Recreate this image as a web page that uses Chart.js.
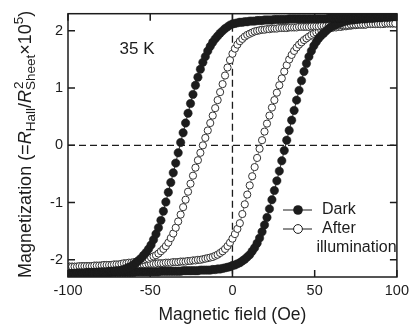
<!DOCTYPE html>
<html>
<head>
<meta charset="utf-8">
<script src="https://cdn.jsdelivr.net/npm/chart.js@4.4.0/dist/chart.umd.min.js"></script>
<style>
   body { margin: 0; background: #fff; }
   #box { width: 414px; height: 330px; }
</style>
</head>
<body>
<div id="box"><canvas id="hallChart"></canvas></div>
<script>
// magnetic field (Oe), same grid for every branch
const fieldOe = [
   -99, -97.5, -96, -94.5, -93, -91.5, -90, -88.5, -87, -85.5,
   -84, -82.5, -81, -79.5, -78, -76.5, -75, -73.5, -72, -70.5,
   -69, -67.5, -66, -64.5, -63, -61.5, -60, -58.5, -57, -55.5,
   -54, -52.5, -51, -49.5, -48, -46.5, -45, -43.5, -42, -40.5,
   -39, -37.5, -36, -34.5, -33, -31.5, -30, -28.5, -27, -25.5,
   -24, -22.5, -21, -19.5, -18, -16.5, -15, -13.5, -12, -10.5,
   -9, -7.5, -6, -4.5, -3, -1.5, 0,
   1.5, 3, 4.5, 6, 7.5, 9, 10.5, 12, 13.5, 15,
   16.5, 18, 19.5, 21, 22.5, 24, 25.5, 27, 28.5, 30,
   31.5, 33, 34.5, 36, 37.5, 39, 40.5, 42, 43.5, 45,
   46.5, 48, 49.5, 51, 52.5, 54, 55.5, 57, 58.5, 60,
   61.5, 63, 64.5, 66, 67.5, 69, 70.5, 72, 73.5, 75,
   76.5, 78, 79.5, 81, 82.5, 84, 85.5, 87, 88.5, 90,
   91.5, 93, 94.5, 96, 97.5, 99
];

// Dark, sweep down (+ -> -)
const darkDown = [
   -2.24, -2.24, -2.24, -2.23, -2.23, -2.23, -2.23, -2.22, -2.22, -2.22,
   -2.22, -2.22, -2.21, -2.21, -2.21, -2.21, -2.20, -2.20, -2.20, -2.19,
   -2.19, -2.18, -2.17, -2.15, -2.13, -2.11, -2.08, -2.05, -2.01, -1.97,
   -1.92, -1.87, -1.81, -1.74, -1.65, -1.55, -1.44, -1.31, -1.15, -0.99,
   -0.82, -0.65, -0.48, -0.31, -0.13, 0.05, 0.22, 0.39, 0.56, 0.73,
   0.89, 1.05, 1.19, 1.33, 1.45, 1.55, 1.65, 1.73, 1.80, 1.86,
   1.91, 1.96, 2.00, 2.04, 2.07, 2.10, 2.12,
   2.13, 2.14, 2.15, 2.15, 2.16, 2.16, 2.17, 2.17, 2.17, 2.18,
   2.18, 2.18, 2.19, 2.19, 2.19, 2.19, 2.20, 2.20, 2.20, 2.20,
   2.20, 2.20, 2.21, 2.21, 2.21, 2.21, 2.21, 2.21, 2.21, 2.21,
   2.21, 2.21, 2.21, 2.21, 2.21, 2.21, 2.21, 2.21, 2.22, 2.22,
   2.22, 2.22, 2.22, 2.22, 2.22, 2.22, 2.22, 2.22, 2.23, 2.23,
   2.23, 2.23, 2.23, 2.23, 2.23, 2.23, 2.23, 2.23, 2.24, 2.24,
   2.24, 2.24, 2.24, 2.24, 2.25, 2.25
];

// Dark, sweep up (- -> +)
const darkUp = [
   -2.25, -2.24, -2.24, -2.24, -2.24, -2.24, -2.24, -2.23, -2.23, -2.23,
   -2.23, -2.23, -2.23, -2.23, -2.23, -2.23, -2.23, -2.22, -2.22, -2.22,
   -2.22, -2.22, -2.22, -2.22, -2.22, -2.22, -2.22, -2.21, -2.21, -2.21,
   -2.21, -2.21, -2.21, -2.21, -2.21, -2.21, -2.21, -2.20, -2.20, -2.20,
   -2.20, -2.20, -2.20, -2.20, -2.20, -2.20, -2.19, -2.19, -2.19, -2.19,
   -2.19, -2.19, -2.19, -2.18, -2.18, -2.18, -2.18, -2.18, -2.17, -2.17,
   -2.16, -2.16, -2.15, -2.14, -2.13, -2.12, -2.10,
   -2.09, -2.07, -2.05, -2.02, -1.99, -1.95, -1.91, -1.85, -1.79, -1.71,
   -1.62, -1.51, -1.39, -1.26, -1.11, -0.95, -0.79, -0.62, -0.45, -0.27,
   -0.09, 0.09, 0.26, 0.44, 0.61, 0.79, 0.96, 1.13, 1.29, 1.43,
   1.55, 1.65, 1.74, 1.81, 1.87, 1.92, 1.96, 2.00, 2.04, 2.07,
   2.09, 2.11, 2.13, 2.14, 2.16, 2.17, 2.18, 2.19, 2.19, 2.20,
   2.20, 2.21, 2.21, 2.21, 2.22, 2.22, 2.22, 2.23, 2.23, 2.23,
   2.24, 2.24, 2.24, 2.25, 2.25, 2.25
];

// After illumination, sweep down
const lightDown = [
   -2.12, -2.12, -2.12, -2.12, -2.11, -2.11, -2.11, -2.11, -2.11, -2.11,
   -2.10, -2.10, -2.10, -2.10, -2.09, -2.09, -2.09, -2.09, -2.08, -2.08,
   -2.08, -2.07, -2.06, -2.06, -2.05, -2.05, -2.04, -2.03, -2.02, -2.01,
   -2.00, -1.99, -1.98, -1.96, -1.94, -1.92, -1.89, -1.85, -1.81, -1.76,
   -1.70, -1.62, -1.54, -1.44, -1.33, -1.21, -1.08, -0.95, -0.81, -0.67,
   -0.53, -0.39, -0.26, -0.13, 0.00, 0.13, 0.26, 0.39, 0.52, 0.65,
   0.79, 0.93, 1.07, 1.22, 1.36, 1.49, 1.60,
   1.69, 1.76, 1.82, 1.86, 1.90, 1.93, 1.95, 1.97, 1.99, 2.00,
   2.01, 2.02, 2.02, 2.03, 2.03, 2.04, 2.04, 2.04, 2.05, 2.05,
   2.05, 2.05, 2.06, 2.06, 2.06, 2.06, 2.07, 2.07, 2.07, 2.07,
   2.07, 2.08, 2.08, 2.08, 2.08, 2.09, 2.09, 2.09, 2.09, 2.09,
   2.10, 2.10, 2.10, 2.10, 2.10, 2.10, 2.10, 2.11, 2.11, 2.11,
   2.11, 2.11, 2.11, 2.11, 2.12, 2.12, 2.12, 2.12, 2.12, 2.12,
   2.12, 2.13, 2.13, 2.13, 2.13, 2.13
];

// After illumination, sweep up
const lightUp = [
   -2.12, -2.12, -2.12, -2.12, -2.12, -2.12, -2.11, -2.11, -2.11, -2.11,
   -2.11, -2.11, -2.11, -2.10, -2.10, -2.10, -2.10, -2.10, -2.10, -2.10,
   -2.10, -2.10, -2.09, -2.09, -2.09, -2.09, -2.09, -2.09, -2.08, -2.08,
   -2.08, -2.08, -2.07, -2.07, -2.07, -2.07, -2.06, -2.06, -2.06, -2.05,
   -2.05, -2.05, -2.04, -2.04, -2.04, -2.03, -2.03, -2.03, -2.02, -2.02,
   -2.01, -2.01, -2.00, -2.00, -1.99, -1.98, -1.97, -1.96, -1.95, -1.93,
   -1.91, -1.88, -1.85, -1.81, -1.76, -1.70, -1.63,
   -1.55, -1.46, -1.36, -1.20, -1.03, -0.86, -0.70, -0.54, -0.38, -0.22,
   -0.06, 0.09, 0.24, 0.38, 0.52, 0.66, 0.79, 0.92, 1.05, 1.17,
   1.29, 1.40, 1.50, 1.58, 1.65, 1.71, 1.76, 1.80, 1.84, 1.87,
   1.90, 1.93, 1.95, 1.97, 1.99, 2.01, 2.02, 2.03, 2.04, 2.05,
   2.06, 2.06, 2.07, 2.07, 2.08, 2.08, 2.09, 2.09, 2.10, 2.10,
   2.11, 2.11, 2.11, 2.11, 2.12, 2.12, 2.12, 2.12, 2.12, 2.12,
   2.12, 2.13, 2.13, 2.13, 2.13, 2.13
];

const xTicks = [-100, -50, 0, 50, 100];
const yTicks = [-2, -1, 0, 1, 2];
const legendNames = ['Dark', 'After', 'illumination'];
const tempLabel = '35 K';
const xTitle = 'Magnetic field (Oe)';

const FONT = '"Liberation Sans", Arial, Helvetica, sans-serif';
const INK = '#1c1c1c';

function pts(arr){
   return fieldOe.map((x, i) => ({x: x, y: arr[i]}));
}

function darkSet(arr){
   return {
      data: pts(arr),
      showLine: true,
      borderColor: '#333',
      borderWidth: 1,
      pointRadius: 4.2,
      pointBackgroundColor: INK,
      pointBorderColor: INK,
      pointBorderWidth: 0.5
   };
}

function lightSet(arr){
   return {
      data: pts(arr),
      showLine: true,
      borderColor: '#444',
      borderWidth: 0.8,
      pointRadius: 3.6,
      pointBackgroundColor: '#fff',
      pointBorderColor: '#333',
      pointBorderWidth: 1
   };
}

// y title with italic R, sub- and superscripts
function drawYTitle(ctx, cx, cy){
   const main = '18px ' + FONT;
   const ital = 'italic 18px ' + FONT;
   const small = '13.5px ' + FONT;
   const parts = [
      {t: 'Magnetization (=', f: main, dy: 0},
      {t: 'R', f: ital, dy: 0},
      {t: 'Hall', f: small, dy: 4},
      {t: '/', f: main, dy: 0},
      {t: 'R', f: ital, dy: 0},
      {t: '2', f: small, dy: -8, stay: true},
      {t: 'Sheet', f: small, dy: 4},
      {t: '\u00d710', f: main, dy: 0},
      {t: '5', f: small, dy: -8},
      {t: ')', f: main, dy: 0}
   ];
   let total = 0;
   parts.forEach(p => {
      ctx.font = p.f;
      p.w = ctx.measureText(p.t).width;
      if(!p.stay) total += p.w;
   });
   ctx.save();
   ctx.translate(cx, cy);
   ctx.rotate(-Math.PI / 2);
   ctx.fillStyle = INK;
   ctx.textBaseline = 'alphabetic';
   ctx.textAlign = 'left';
   let x = -total / 2;
   parts.forEach(p => {
      ctx.font = p.f;
      ctx.fillText(p.t, p.stay ? x + 1 : x, p.dy);
      if(!p.stay) x += p.w;
   });
   ctx.restore();
}

const decor = {
   id: 'decor',
   beforeDatasetsDraw(chart){
      const ctx = chart.ctx;
      const a = chart.chartArea;
      const xs = chart.scales.x, ys = chart.scales.y;
      ctx.save();
      ctx.strokeStyle = INK;
      ctx.lineWidth = 1.3;
      ctx.setLineDash([7, 4]);
      ctx.beginPath();
      ctx.moveTo(a.left, ys.getPixelForValue(0));
      ctx.lineTo(a.right, ys.getPixelForValue(0));
      ctx.moveTo(xs.getPixelForValue(0), a.top);
      ctx.lineTo(xs.getPixelForValue(0), a.bottom);
      ctx.stroke();
      ctx.restore();
   },
   afterDatasetsDraw(chart){
      const ctx = chart.ctx;
      const a = chart.chartArea;
      const xs = chart.scales.x, ys = chart.scales.y;
      ctx.save();
      ctx.strokeStyle = INK;
      ctx.lineWidth = 1.5;
      ctx.strokeRect(a.left, a.top, a.right - a.left, a.bottom - a.top);

      // inward ticks on all four sides
      const tl = 7;
      ctx.beginPath();
      yTicks.forEach(v => {
         const py = ys.getPixelForValue(v);
         ctx.moveTo(a.left, py); ctx.lineTo(a.left + tl, py);
         ctx.moveTo(a.right, py); ctx.lineTo(a.right - tl, py);
      });
      xTicks.forEach(v => {
         const px = xs.getPixelForValue(v);
         ctx.moveTo(px, a.bottom); ctx.lineTo(px, a.bottom - tl);
         ctx.moveTo(px, a.top); ctx.lineTo(px, a.top + tl);
      });
      ctx.stroke();

      ctx.fillStyle = INK;
      ctx.textBaseline = 'middle';
      ctx.font = '17px ' + FONT;
      ctx.textAlign = 'center';
      ctx.fillText(tempLabel, 137, 49);

      // legend
      ctx.lineWidth = 1;
      ctx.beginPath();
      ctx.moveTo(283, 210); ctx.lineTo(312, 210);
      ctx.moveTo(283, 229); ctx.lineTo(312, 229);
      ctx.stroke();
      ctx.beginPath();
      ctx.arc(298, 210, 4.8, 0, Math.PI * 2);
      ctx.fill();
      ctx.beginPath();
      ctx.arc(298, 229, 4.4, 0, Math.PI * 2);
      ctx.fillStyle = '#fff';
      ctx.fill();
      ctx.stroke();
      ctx.fillStyle = INK;
      ctx.font = '16px ' + FONT;
      ctx.textAlign = 'left';
      ctx.fillText(legendNames[0], 322, 210);
      ctx.fillText(legendNames[1], 322, 229);
      ctx.fillText(legendNames[2], 316.5, 248);

      // x title
      ctx.font = '17.5px ' + FONT;
      ctx.textAlign = 'center';
      ctx.textBaseline = 'alphabetic';
      ctx.fillText(xTitle, (a.left + a.right) / 2, 320);
      ctx.restore();

      drawYTitle(ctx, 31, (a.top + a.bottom) / 2 - 1);
   }
};

const hallChart = new Chart(document.getElementById('hallChart'), {
   type: 'scatter',
   data: {
      datasets: [
         darkSet(darkDown),
         darkSet(darkUp),
         lightSet(lightDown),
         lightSet(lightUp)
      ]
   },
   options: {
      responsive: true,
      maintainAspectRatio: false,
      devicePixelRatio: 1,
      animation: false,
      layout: { padding: { top: 11, right: 12, left: 0, bottom: 0 } },
      plugins: {
         legend: { display: false },
         tooltip: { enabled: false }
      },
      scales: {
         x: {
            type: 'linear',
            min: -100,
            max: 100,
            grid: { display: false, drawTicks: false },
            border: { display: false },
            afterBuildTicks: s => { s.ticks = xTicks.map(v => ({value: v})); },
            afterFit: s => { s.height = 53; },
            ticks: {
               color: INK,
               padding: 5,
               maxRotation: 0,
               font: { family: FONT, size: 14.5 },
               callback: v => String(v)
            }
         },
         y: {
            type: 'linear',
            min: -2.3,
            max: 2.3,
            grid: { display: false, drawTicks: false },
            border: { display: false },
            afterBuildTicks: s => { s.ticks = yTicks.map(v => ({value: v})); },
            afterFit: s => { s.width = 68; },
            ticks: {
               color: INK,
               padding: 5,
               font: { family: FONT, size: 14.5 },
               callback: v => String(v)
            }
         }
      }
   },
   plugins: [decor]
});
</script>
</body>
</html>
